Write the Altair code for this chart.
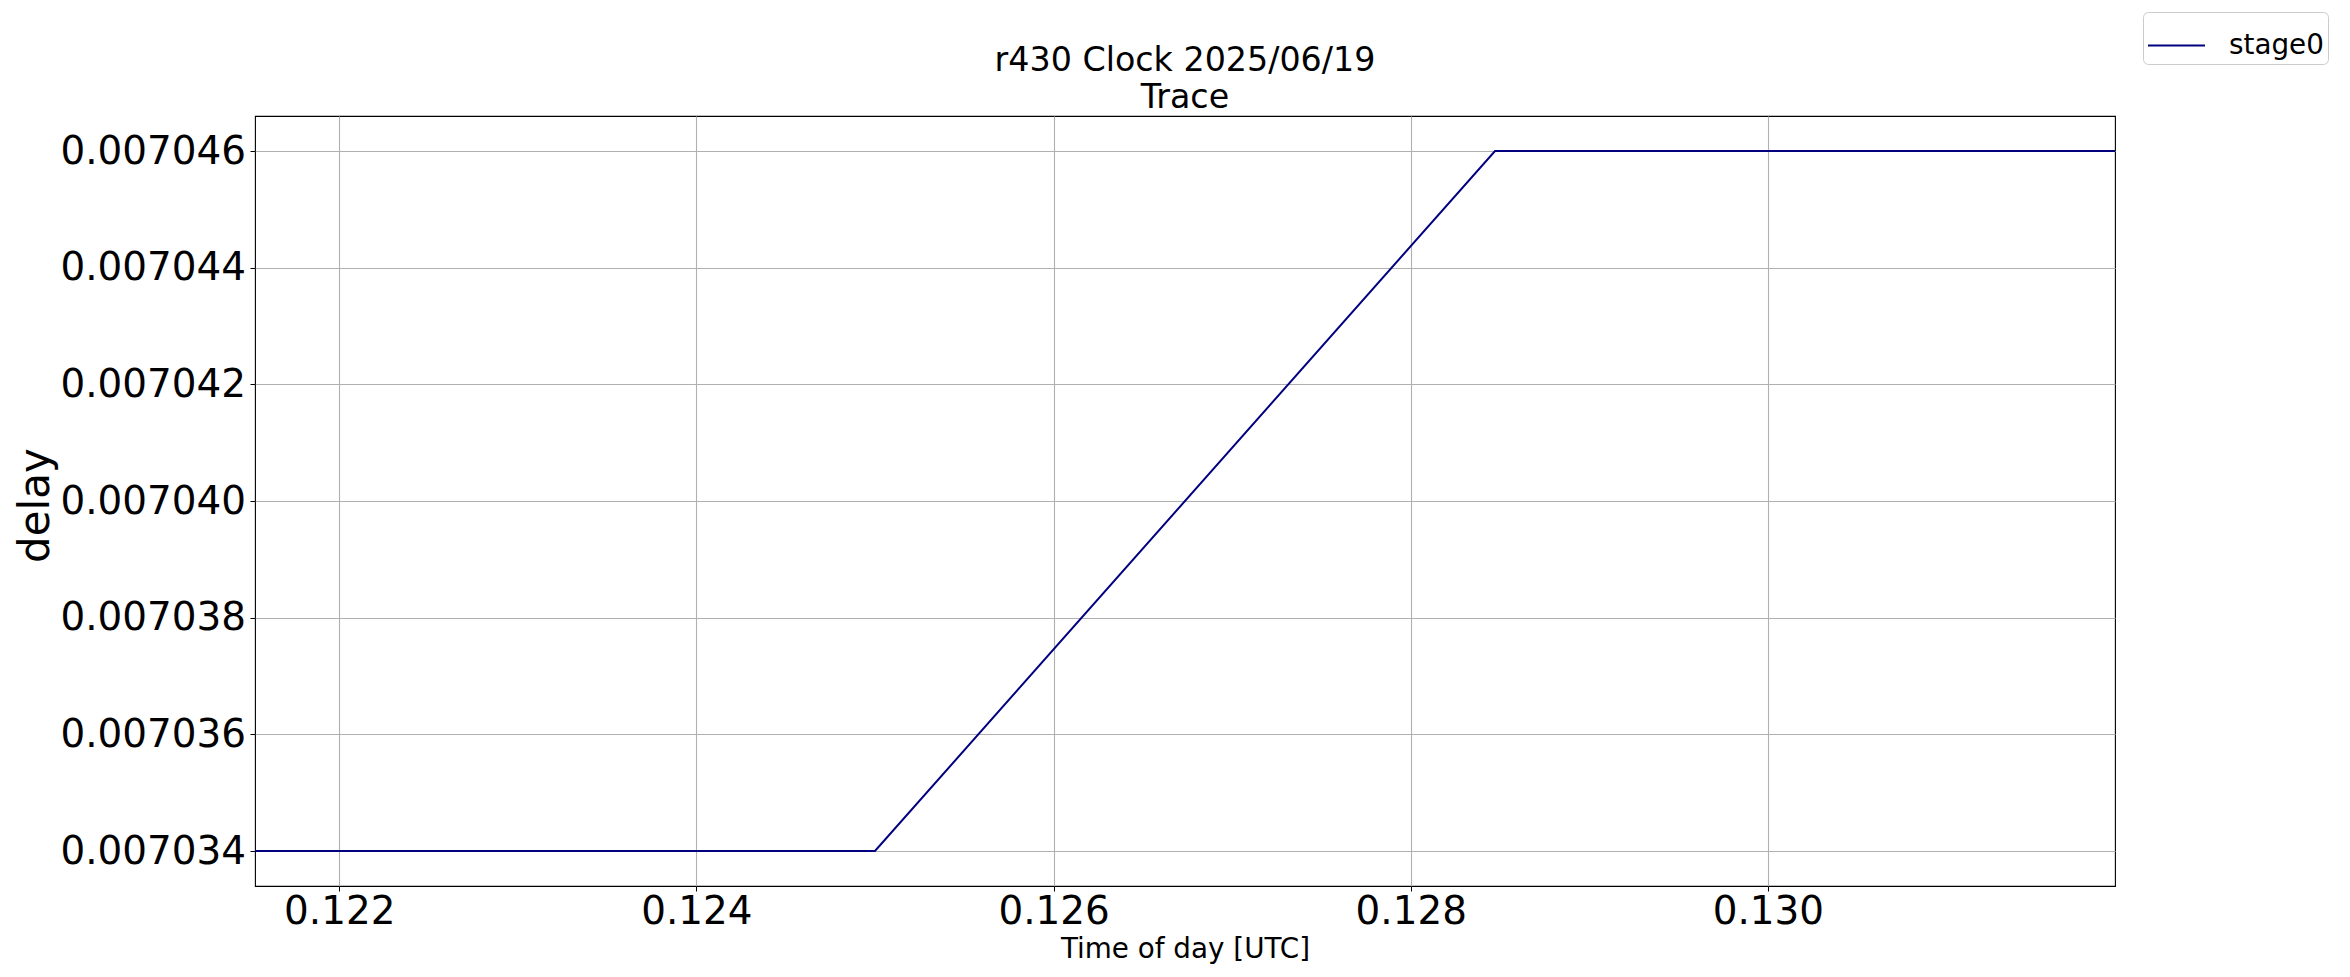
import altair as alt
import pandas as pd

# values
times = [0.121528, 0.125000, 0.128472, 0.131944]
delays = [0.007034, 0.007034, 0.007046, 0.007046]
series = ["stage0", "stage0", "stage0", "stage0"]

x_ticks = [0.122, 0.124, 0.126, 0.128, 0.130]
y_ticks = [0.007034, 0.007036, 0.007038, 0.007040, 0.007042, 0.007044, 0.007046]
x_domain = [0.121528, 0.131944]
y_domain = [0.0070334, 0.0070466]

df = pd.DataFrame({"time": times, "delay": delays, "series": series})

FONT = "DejaVu Sans"

chart = (
    alt.Chart(df)
    .mark_line(strokeWidth=2, clip=True)
    .encode(
        x=alt.X(
            "time:Q",
            scale=alt.Scale(domain=x_domain, nice=False, zero=False),
            axis=alt.Axis(
                title="Time of day [UTC]",
                values=x_ticks,
                format=".3f",
                labelFontSize=38.9,
                labelPadding=1,
                labelColor="black",
                labelLimit=500,
                tickSize=5,
                tickColor="black",
                tickWidth=1,
                domain=False,
                grid=True,
                gridColor="#b0b0b0",
                gridWidth=1.1,
                titleFontSize=27.8,
                titleFontWeight="normal",
                titleColor="black",
                titleBaseline="alphabetic",
                titleY=71,
                labelFlush=False,
                labelOverlap=False,
            ),
        ),
        y=alt.Y(
            "delay:Q",
            scale=alt.Scale(domain=y_domain, nice=False, zero=False),
            axis=alt.Axis(
                title="delay",
                values=y_ticks,
                format=".6f",
                labelFontSize=38.9,
                labelPadding=4.5,
                labelColor="black",
                labelLimit=500,
                tickSize=5,
                tickColor="black",
                tickWidth=1,
                domain=False,
                grid=True,
                gridColor="#b0b0b0",
                gridWidth=1.1,
                titleFontSize=42,
                titleFontWeight="normal",
                titleColor="black",
                titleBaseline="alphabetic",
                titleAngle=270,
                titleAlign="center",
                titleX=-207,
                titleY=389,
                titleLimit=1000,
                labelFlush=False,
                labelOverlap=False,
            ),
        ),
        color=alt.Color(
            "series:N",
            scale=alt.Scale(domain=["stage0"], range=["navy"]),
            legend=alt.Legend(
                title=None,
                orient="none",
                legendX=1888,
                legendY=-104,
                symbolType="stroke",
                symbolSize=3249,
                symbolStrokeWidth=2,
                labelFontSize=27.8,
                labelColor="black",
                labelOffset=23,
                padding=4,
                strokeColor="#cccccc",
                cornerRadius=5,
                fillColor="white",
            ),
        ),
    )
    .properties(
        width=1860,
        height=770,
        title=alt.TitleParams(
            text=["r430 Clock 2025/06/19", "Trace"],
            fontSize=33.3,
            fontWeight="normal",
            color="black",
            anchor="middle",
            frame="group",
            lineHeight=37,
            offset=8,
            dy=138,
            baseline="alphabetic",
        ),
        padding={"left": 247, "top": 108, "right": 227, "bottom": 83},
        autosize=alt.AutoSizeParams(type="none"),
    )
    .configure(font=FONT)
    .configure_view(stroke="black", strokeWidth=1.1)
)

chart.save("out.html", embed_options={"renderer": "svg", "actions": False})
